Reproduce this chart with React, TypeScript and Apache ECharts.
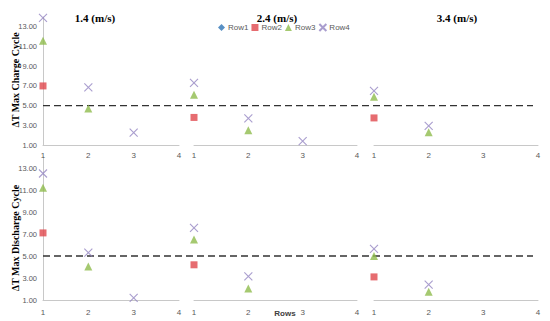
import React, { useEffect, useRef } from "react";
import * as echarts from "echarts";

const speeds = ["1.4 (m/s)", "2.4 (m/s)", "3.4 (m/s)"];
const rowNumbers = [1, 2, 3, 4];
const seriesNames = ["Row1", "Row2", "Row3", "Row4"];
const threshold = 5;
const yTicks = [1, 3, 5, 7, 9, 11, 13];
const yAxisTitles = ["ΔT Max Charge Cycle", "ΔT Max Discharge Cycle"];

// values per panel (1.4, 2.4, 3.4 m/s), indexed by row number 1..4
const chargeRow1: (number | null)[][] = [
  [null, null, null, null],
  [null, null, null, null],
  [null, null, null, null],
];
const chargeRow2: (number | null)[][] = [
  [7.0, null, null, null],
  [3.8, null, null, null],
  [3.75, null, null, null],
];
const chargeRow3: (number | null)[][] = [
  [11.6, 4.7, null, null],
  [6.1, 2.5, null, null],
  [5.9, 2.3, null, null],
];
const chargeRow4: (number | null)[][] = [
  [13.9, 6.85, 2.25, null],
  [7.3, 3.7, 1.4, null],
  [6.5, 2.95, null, null],
];
const dischargeRow1: (number | null)[][] = [
  [null, null, null, null],
  [null, null, null, null],
  [null, null, null, null],
];
const dischargeRow2: (number | null)[][] = [
  [7.1, null, null, null],
  [4.2, null, null, null],
  [3.1, null, null, null],
];
const dischargeRow3: (number | null)[][] = [
  [11.2, 4.05, null, null],
  [6.5, 2.05, null, null],
  [5.0, 1.75, null, null],
];
const dischargeRow4: (number | null)[][] = [
  [12.5, 5.3, 1.2, null],
  [7.55, 3.15, null, null],
  [5.65, 2.4, null, null],
];

const colors = ["#2e74b5", "#e0474c", "#8fbc4c", "#9484c2"];
const symbols = ["diamond", "rect", "triangle", "path://M0,0L10,10M10,0L0,10"];
const symbolSizes = [7, 7, 8, 8];

const colLeft = [43, 194, 374];
const colWidth = [136, 163, 164];
const rowTop = [17, 157];
const rowHeight = [128, 143];

export default function App() {
  const ref = useRef<HTMLDivElement>(null);
  useEffect(() => {
    document.body.style.margin = "0";
    const chart = echarts.init(ref.current!, null, { renderer: "svg" });
    const grids: any[] = [];
    const xAxes: any[] = [];
    const yAxes: any[] = [];
    const series: any[] = [];
    const tables = [
      [chargeRow1, chargeRow2, chargeRow3, chargeRow4],
      [dischargeRow1, dischargeRow2, dischargeRow3, dischargeRow4],
    ];
    for (let r = 0; r < 2; r++) {
      for (let c = 0; c < 3; c++) {
        const gi = r * 3 + c;
        grids.push({ left: colLeft[c], top: rowTop[r], width: colWidth[c], height: rowHeight[r] });
        xAxes.push({
          gridIndex: gi,
          type: "value",
          min: 1,
          max: 4,
          interval: 1,
          axisLine: { show: true, lineStyle: { color: "#c8c8c8", width: 1 } },
          axisTick: { show: false },
          splitLine: { show: false },
          axisLabel: {
            fontSize: 8,
            color: "#595959",
            fontFamily: "Liberation Sans",
            margin: r === 0 ? 6 : 8,
          },
        });
        yAxes.push({
          gridIndex: gi,
          type: "value",
          min: 1,
          max: 14,
          interval: 2,
          axisLine: { show: c === 0, lineStyle: { color: "#c8c8c8", width: 1 } },
          axisTick: { show: false },
          splitLine: { show: false },
          axisLabel: {
            show: c === 0,
            fontSize: 7.5,
            color: "#595959",
            fontFamily: "Liberation Sans",
            margin: 6,
            formatter: (v: number) => (yTicks.includes(v) ? v.toFixed(2) : ""),
          },
        });
        for (let s = 0; s < 4; s++) {
          const vals = tables[r][s][c];
          const data = rowNumbers
            .map((rn, i) => (vals[i] == null ? null : [rn, vals[i]]))
            .filter((d) => d !== null);
          const isCross = s === 3;
          series.push({
            type: "scatter",
            name: seriesNames[s],
            xAxisIndex: gi,
            yAxisIndex: gi,
            data,
            symbol: symbols[s],
            symbolSize: symbolSizes[s],
            clip: false,
            z: 3,
            itemStyle: isCross
              ? { color: "rgba(0,0,0,0)", borderColor: colors[s], borderWidth: 1.1 }
              : { color: colors[s] },
          });
        }
      }
    }
    // full-width grids for the dashed reference line in each row
    for (let r = 0; r < 2; r++) {
      const gi = 6 + r;
      grids.push({ left: 43, top: rowTop[r], width: 490, height: rowHeight[r] });
      xAxes.push({ gridIndex: gi, type: "value", min: 0, max: 1, show: false });
      yAxes.push({ gridIndex: gi, type: "value", min: 1, max: 14, show: false });
      series.push({
        type: "line",
        name: "threshold" + r,
        xAxisIndex: gi,
        yAxisIndex: gi,
        data: [
          [0, threshold],
          [1, threshold],
        ],
        symbol: "none",
        silent: true,
        z: 2,
        lineStyle: { color: "#333333", width: 1.3, type: [7, 4] },
      });
    }
    const titleX = [95, 277, 457];
    const graphic: any[] = speeds.map((t, i) => ({
      type: "text",
      x: titleX[i],
      y: 18,
      style: {
        text: t,
        align: "center",
        verticalAlign: "middle",
        fontSize: 11,
        fontWeight: "bold",
        fontFamily: "Liberation Serif",
        fill: "#000",
      },
    }));
    const yTitleY = [80, 238];
    yAxisTitles.forEach((t, i) => {
      graphic.push({
        type: "text",
        x: 15,
        y: yTitleY[i],
        rotation: Math.PI / 2,
        style: {
          text: t,
          align: "center",
          verticalAlign: "middle",
          fontSize: 10,
          fontWeight: "bold",
          fontFamily: "Liberation Serif",
          fill: "#000",
        },
      });
    });
    graphic.push({
      type: "text",
      x: 285,
      y: 313,
      style: {
        text: "Rows",
        align: "center",
        verticalAlign: "middle",
        fontSize: 8,
        fontWeight: "bold",
        fontFamily: "Liberation Sans",
        fill: "#404040",
      },
    });
    chart.setOption({
      animation: false,
      backgroundColor: "#ffffff",
      grid: grids,
      xAxis: xAxes,
      yAxis: yAxes,
      series,
      graphic,
      legend: {
        data: seriesNames,
        left: 218,
        top: 23,
        padding: 0,
        itemWidth: 7,
        itemHeight: 7,
        itemGap: 3,
        textStyle: { fontSize: 8, color: "#595959", fontFamily: "Liberation Sans", padding: [0, 0, 0, -2] },
      },
    });
    return () => chart.dispose();
  }, []);
  return <div ref={ref} style={{ width: 550, height: 321 }} />;
}
